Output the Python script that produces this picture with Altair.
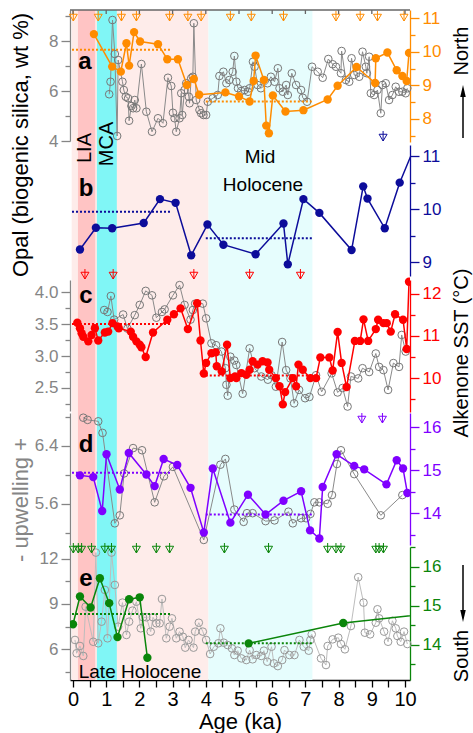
import altair as alt
import pandas as pd

# ---------------- data ----------------
# panel a : opal (grey, left axis) and orange record (right axis)
opal_age = [1.09,1.13,1.19,1.26,1.33,1.36,1.49,1.53,1.59,1.66,
            1.69,1.76,1.81,1.86,1.91,2.06,2.21,2.38,2.56,2.71,
            2.86,2.96,3.01,3.06,3.11,3.21,3.26,3.29,3.36,3.41,
            3.49,3.51,3.56,3.61,3.64,3.71,3.81,3.86,3.93,4.01,
            4.06,4.21,4.36,4.41,4.53,4.62,4.71,4.81,4.86,4.92,
            4.97,5.07,5.17,5.27,5.32,5.42,5.47,5.56,5.66,5.86,
            5.96,6.07,6.17,6.22,6.32,6.42,6.47,6.59,6.72,6.87,
            6.92,7.05,7.20,7.37,7.52,7.69,7.82,7.92,8.07,8.09,
            8.22,8.32,8.39,8.47,8.62,8.72,8.82,8.85,8.92,8.97,
            9.07,9.17,9.27,9.32,9.42,9.52,9.62,9.72,9.82,9.92,
            10.02,10.07]
opal_val = [5.87,6.37,8.84,7.48,4.20,7.24,6.37,6.04,5.77,5.71,
            4.81,5.40,5.31,5.64,5.31,7.08,5.17,4.37,4.91,4.71,
            6.53,6.20,5.13,4.91,4.37,4.91,5.91,5.04,6.04,6.31,
            5.77,5.51,6.51,6.57,8.71,5.64,5.24,5.11,5.04,5.04,
            5.57,5.71,5.84,6.60,6.77,6.31,6.44,6.77,7.40,6.37,
            6.11,6.00,6.04,5.97,6.11,7.17,6.97,6.24,6.11,6.31,
            6.57,6.37,6.91,6.11,5.97,6.24,5.84,6.71,6.24,6.04,
            5.73,5.57,6.97,6.77,6.53,7.28,7.07,6.97,6.71,7.60,
            6.44,6.37,7.31,6.64,6.57,7.57,6.97,6.71,7.37,5.91,
            5.84,6.04,5.11,6.24,6.31,5.64,5.84,6.17,5.97,5.97,
            5.91,6.11]
a_age = [0.63,1.18,1.44,1.61,1.69,1.84,2.02,2.56,2.84,3.16,
         3.43,3.64,3.80,4.59,5.00,5.32,5.44,5.50,5.75,5.82,
         5.90,6.02,6.40,6.94,7.67,7.97,8.54,9.10,9.12,9.47,
         9.75,9.92,10.05,10.12]
a_val = [10.53,9.56,9.41,10.26,9.59,10.59,10.31,10.23,9.78,9.78,
         9.01,9.19,8.72,8.79,8.67,8.52,9.13,9.89,9.16,7.80,
         7.57,8.70,8.22,8.26,8.58,8.99,9.55,9.07,9.81,9.98,
         9.45,9.28,9.13,9.97]

# panel b : blue record
b_age = [0.21,0.69,1.18,2.13,2.62,3.09,3.56,4.05,4.53,5.50,
         6.34,6.47,6.94,7.42,8.39,8.74,8.87,9.39,9.84,10.35]
b_val = [9.24,9.65,9.64,9.74,10.19,10.12,9.13,9.71,9.33,9.15,
         9.73,8.96,10.19,9.93,9.23,10.43,10.20,9.64,10.50,11.27]

# panel c : grey (left) and alkenone SST (red, right)
gc_age = [0.94,1.04,1.14,1.24,1.51,1.64,1.86,2.01,2.19,2.38,
          2.51,2.68,2.76,3.01,3.21,3.36,3.54,3.61,3.68,3.91,
          4.01,4.17,4.31,4.47,4.59,4.62,4.66,4.74,4.86,4.92,
          5.11,5.32,5.47,5.67,5.87,5.98,6.11,6.30,6.42,6.55,
          6.66,6.81,6.99,7.12,7.32,7.49,7.79,7.97,8.12,8.27,
          8.37,8.59,8.72,8.92,9.12,9.22,9.35,9.49,9.65,9.82,
          9.90,10.02]
gc_val = [3.72,3.69,3.94,3.57,3.65,3.43,3.64,3.80,4.02,3.95,
          3.60,3.69,3.73,3.95,4.11,3.80,3.57,3.72,3.82,3.82,
          3.59,3.20,3.17,3.07,2.81,2.55,2.38,2.99,2.93,2.86,
          2.41,3.12,2.81,2.68,2.63,2.70,2.52,3.22,2.78,2.65,
          2.26,2.47,2.34,2.36,2.70,2.44,2.73,2.43,2.50,2.21,
          2.68,2.65,2.81,2.75,3.04,2.83,2.78,2.47,2.89,2.83,
          3.33,3.07]
c_age = [0.13,0.21,0.26,0.31,0.46,0.56,0.66,0.76,0.96,1.06,
         1.19,1.34,1.38,1.74,1.81,1.91,2.01,2.06,2.19,2.41,
         2.84,3.04,3.24,3.46,3.74,3.84,3.94,4.01,4.17,4.30,
         4.33,4.48,4.64,4.74,4.88,4.92,5.07,5.22,5.32,5.41,
         5.56,5.71,5.86,5.91,6.11,6.22,6.32,6.39,6.62,6.72,
         6.79,6.92,7.15,7.32,7.45,7.72,7.82,7.97,8.09,8.24,
         8.49,8.65,8.75,8.89,9.12,9.19,9.35,9.45,9.57,9.70,
         9.94,10.05,10.12]
c_val = [11.31,11.18,11.06,10.98,10.87,11.02,11.18,10.89,11.08,11.10,
         11.30,11.22,11.18,11.10,10.98,10.87,10.79,10.73,10.50,11.08,
         11.38,11.51,11.65,11.16,11.77,10.89,10.11,10.36,10.59,10.61,
         10.28,10.16,10.79,10.00,10.04,10.00,10.12,10.08,10.20,10.40,
         10.32,10.40,10.37,10.20,10.00,9.81,9.38,9.67,10.00,9.81,
         10.32,10.20,10.00,10.00,10.49,10.49,10.18,11.09,10.36,9.79,
         10.88,10.88,11.39,10.88,11.16,11.38,11.30,11.30,11.10,11.51,
         11.38,10.69,12.28]

# panel d : grey upwelling index (left) and purple record (right)
gd_age = [0.31,0.44,0.76,0.89,1.26,1.41,1.54,1.81,2.08,2.46,
          2.74,3.01,3.94,4.44,4.59,4.86,5.14,5.24,5.41,5.80,
          6.07,6.49,6.62,6.87,7.02,7.15,7.27,7.42,7.67,7.80,
          7.95,8.07,8.47,9.27,9.92]
gd_val = [6.79,6.76,6.74,6.58,5.33,5.44,6.02,6.37,6.34,5.62,
          5.98,6.11,5.10,6.14,6.22,5.52,5.35,5.47,5.47,5.36,
          5.37,5.49,5.33,5.40,5.40,5.46,5.62,5.62,5.60,5.72,
          6.15,6.34,6.01,5.44,5.72]
d_age = [0.21,0.61,0.88,1.01,1.41,1.68,2.21,2.46,2.73,3.14,
         3.54,3.94,4.21,4.74,5.27,5.80,6.34,6.87,7.14,7.42,
         7.52,7.94,8.47,8.77,9.44,9.75,9.94,10.07]
d_val = [14.88,14.84,14.05,15.37,14.55,15.40,14.90,14.63,15.26,15.12,
         14.59,13.55,15.04,13.78,14.43,13.97,14.29,14.51,13.60,13.41,
         14.61,15.37,15.10,15.02,14.67,15.23,15.04,14.47]

# panel e : grey (left) and green record (right)
ge_age = [0.06,0.11,0.21,0.31,0.38,0.61,0.69,0.76,0.86,0.96,
          1.04,1.16,1.26,1.36,1.49,1.61,1.69,1.79,1.91,2.04,
          2.11,2.21,2.34,2.41,2.51,2.61,2.68,2.81,2.91,2.98,
          3.11,3.21,3.31,3.38,3.48,3.63,3.68,3.79,3.91,4.01,
          4.13,4.24,4.38,4.44,4.54,4.66,4.79,4.86,4.96,5.07,
          5.22,5.32,5.41,5.52,5.67,5.75,5.85,5.98,6.05,6.17,
          6.30,6.37,6.52,6.67,6.82,6.95,7.10,7.15,7.19,7.47,
          7.62,7.67,7.82,7.99,8.07,8.19,8.37,8.59,8.75,8.79,
          8.95,9.12,9.17,9.22,9.37,9.49,9.62,9.72,9.77,9.87,
          9.97,10.07]
ge_val = [6.62,5.74,6.22,5.56,8.82,6.50,12.40,6.40,7.83,9.93,
          6.73,12.40,10.26,7.50,9.09,6.95,7.83,8.56,9.15,7.39,
          8.12,8.12,7.17,8.12,7.72,7.72,9.33,6.73,7.50,8.05,
          6.73,7.17,6.83,6.11,6.62,6.11,7.17,7.76,7.17,6.62,
          5.69,6.17,6.40,7.39,6.44,6.28,6.06,5.62,5.91,5.40,
          5.29,5.95,5.34,5.62,5.56,5.91,5.18,6.17,5.07,4.89,
          5.29,5.95,5.62,5.62,6.62,6.17,5.91,6.62,6.99,5.40,
          4.96,6.22,6.66,6.77,6.35,6.00,7.54,10.77,9.09,7.10,
          6.99,7.76,8.65,8.05,7.17,6.50,7.89,7.39,6.88,6.50,
          7.17,6.35]
e_age = [0.00,0.21,0.53,0.81,1.09,1.34,1.69,2.01,2.24,5.29,8.14,10.6]
e_val = [14.53,15.24,14.96,15.71,15.07,14.20,15.17,15.22,13.67,14.04,14.56,14.79]
e_seg = [1,1,1,1,1,1,1,1,1,2,2,2]

# period means (start age, end age, value)
mean_start = [-0.03, 4.00]
mean_end = [2.97, 7.20]
a_mean = [10.06, 8.52]
b_mean = [9.95, 9.45]
c_mean = [11.28, 10.06]
d_mean = [14.94, 13.97]
e_mean = [14.79, 14.04]

# dating control points (ages)
date_orange = [0.01,0.76,1.46,1.91,2.91,3.46,3.86,4.74,5.37,6.34,7.92,8.65,9.17,9.97]
date_blue = [9.34]
date_red = [0.36,1.21,3.64,5.32,6.85]
date_purple = [8.70,9.32]
date_green = [0.01,0.16,0.26,0.56,0.96,1.16,1.91,2.51,2.91,4.56,5.89,7.67,7.92,8.07,9.12,9.22,9.35]

# climate periods
period_name = ["Late Holocene", "Mid Holocene", "LIA", "MCA"]
period_start = [-0.04, 4.08, 0.15, 0.72]
period_end = [4.08, 7.21, 0.67, 1.32]
period_color = ["#feecea", "#e6fdfd", "#ffc4c4", "#80f6f6"]

x_ticks = [i * 0.5 for i in range(21)]
top_ticks = list(range(11))

# ---------------- styling ----------------
W, H = 340, 670
FONT = "Liberation Sans"
GREY = "#858585"
ORANGE = "#ff8c00"
BLUE = "#0c0c9a"
RED = "#ff0000"
PURPLE = "#7f00ff"
GREEN = "#0a850a"
XS = alt.Scale(domain=[-0.09, 10.15], nice=False, zero=False)
XAXIS = alt.Axis(orient="bottom", values=x_ticks, grid=False, tickSize=7,
                 tickColor="black", domainColor="black", tickWidth=1.3, domainWidth=1.3,
                 labelExpr="datum.value % 1 === 0 ? format(datum.value, 'd') : ''",
                 labelFont=FONT, labelFontSize=20, labelColor="black", labelPadding=2,
                 title="Age (ka)", titleFont=FONT, titleFontSize=22,
                 titleFontWeight="normal", titleColor="black", titlePadding=2)
X = alt.X("age:Q", scale=XS, axis=XAXIS)


def ys(dom, rng):
    return alt.Scale(domain=dom, range=rng, nice=False, zero=False)


def ax(orient, values, color, major=True, fmt=None):
    kw = dict(orient=orient, values=values, title=None, grid=False,
              tickColor=color, domainColor=color, labelColor=color,
              labelFont=FONT, labelFontSize=17, tickWidth=1.3, domainWidth=1.3)
    if major:
        kw.update(tickSize=9, labelPadding=3)
        if fmt:
            kw["format"] = fmt
    else:
        kw.update(tickSize=5, labels=False, domain=False)
    return alt.Axis(**kw)


def frame(ages, vals, **extra):
    d = pd.DataFrame({"age": ages, "val": vals})
    for k, v in extra.items():
        d[k] = v
    return d


def line(df, color, scale, axis=None, width=1.5, clip=False, detail=None):
    enc = dict(x=X, y=alt.Y("val:Q", scale=scale, axis=axis))
    if detail:
        enc["detail"] = detail
    return alt.Chart(df).mark_line(color=color, strokeWidth=width, clip=clip).encode(**enc)


def dots(df, color, scale, axis=None, size=70, clip=False):
    return alt.Chart(df).mark_circle(color=color, size=size, opacity=1, clip=clip).encode(
        x=X, y=alt.Y("val:Q", scale=scale, axis=axis))


def rings(df, color, scale, axis=None, size=58):
    return alt.Chart(df).mark_point(shape="circle", filled=False, color=color, size=size,
                                    strokeWidth=1, opacity=1).encode(
        x=X, y=alt.Y("val:Q", scale=scale, axis=axis))


def means(vals, color, scale):
    df = pd.DataFrame({"age": mean_start, "e": mean_end, "val": vals})
    return alt.Chart(df).mark_rule(color=color, strokeWidth=2, strokeDash=[2, 2]).encode(
        x=X, x2="e:Q",
        y=alt.Y("val:Q", scale=scale, axis=None))


MARK_PATH = "M0,-1L0,1M-0.8,-0.35L0.8,-0.35L0,1Z"


def dating(ages, color, ypix):
    df = pd.DataFrame({"age": ages})
    return alt.Chart(df).mark_point(shape=MARK_PATH, filled=False, color=color, size=100,
                                    strokeWidth=1, opacity=1).encode(x=X, y=alt.value(ypix))


def label(text, xpix, ypix, size=19, angle=0, weight="normal", color="black"):
    kw = dict(text=text, font=FONT, fontSize=size, fontWeight=weight, color=color,
              align="center", baseline="middle")
    if angle:
        kw["angle"] = angle
    return alt.Chart(pd.DataFrame({"t": [0]})).mark_text(**kw).encode(
        x=alt.value(xpix), y=alt.value(ypix))


# scales (value domain -> pixel range inside the 670 px tall plot)
S_OPAL = ys([4.0, 9.24], [131, 0])
S_A = ys([7.31, 11.25], [132, 0])
S_B = ys([8.74, 11.21], [266, 135])
S_GC = ys([2.14, 4.19], [401, 270])
S_C = ys([9.2, 12.32], [402, 270])
S_GD = ys([5.03, 6.855], [535, 403])
S_D = ys([13.26, 16.33], [535, 403])
S_GE = ys([3.97, 12.77], [670, 537])
S_E = ys([13.1, 16.51], [670, 537])

df_opal = frame(opal_age, opal_val)
df_a = frame(a_age, a_val)
df_b = frame(b_age, b_val)
df_gc = frame(gc_age, gc_val)
df_c = frame(c_age, c_val)
df_gd = frame(gd_age, gd_val)
df_d = frame(d_age, d_val)
df_ge = frame(ge_age, ge_val)
df_e = frame(e_age, e_val, seg=e_seg)

bg = alt.Chart(pd.DataFrame({"name": period_name, "age": period_start, "e": period_end})).mark_rect().encode(
    x=X,
    x2="e:Q",
    y=alt.value(0), y2=alt.value(H),
    color=alt.Color("name:N", scale=alt.Scale(domain=period_name, range=period_color), legend=None),
)

top_line = alt.Chart(pd.DataFrame({"t": [0]})).mark_rule(color="#666666", strokeWidth=1.5).encode(
    x=alt.value(0), x2=alt.value(W), y=alt.value(0))
top_tick = alt.Chart(pd.DataFrame({"age": top_ticks})).mark_rule(color="#666666", strokeWidth=1.3).encode(
    x=X, y=alt.value(0), y2=alt.value(4))

layers = [
    bg,
    # grey records
    line(df_opal, "#8a8a8a", S_OPAL, ax("left", [5, 7, 9], GREY, major=False), width=1),
    rings(df_opal, "#777777", S_OPAL, ax("left", [4, 6, 8], GREY)),
    line(df_gc, "#8a8a8a", S_GC, ax("left", [2.25, 2.75, 3.25, 3.75], GREY, major=False), width=1),
    rings(df_gc, "#777777", S_GC, ax("left", [2.5, 3.0, 3.5, 4.0], GREY, fmt=".1f")),
    line(df_gd, "#8a8a8a", S_GD, ax("left", [5.2, 6.0, 6.8], GREY, major=False), width=1),
    rings(df_gd, "#777777", S_GD, ax("left", [5.6, 6.4], GREY, fmt=".1f")),
    line(df_ge, "#bdbdbd", S_GE, ax("left", [4.5, 7.5, 10.5], GREY, major=False), width=1),
    rings(df_ge, "#999999", S_GE, ax("left", [6, 9, 12], GREY)),
    # period means
    means(a_mean, ORANGE, S_A),
    means(b_mean, BLUE, S_B),
    means(c_mean, RED, S_C),
    means(d_mean, PURPLE, S_D),
    means(e_mean, GREEN, S_E),
    # coloured records
    line(df_a, ORANGE, S_A, ax("right", [7.5, 8.5, 9.5, 10.5], ORANGE, major=False), clip=True),
    dots(df_a, ORANGE, S_A, ax("right", [8, 9, 10, 11], ORANGE), clip=True),
    line(df_b, BLUE, S_B, ax("right", [9.5, 10.5], BLUE, major=False), clip=True),
    dots(df_b, BLUE, S_B, ax("right", [9, 10, 11], BLUE), clip=True),
    line(df_c, RED, S_C, ax("right", [9.5, 10.5, 11.5], RED, major=False), clip=True),
    dots(df_c, RED, S_C, ax("right", [10, 11, 12], RED), clip=True),
    line(df_d, PURPLE, S_D, ax("right", [13.5, 14.5, 15.5], PURPLE, major=False), clip=True),
    dots(df_d, PURPLE, S_D, ax("right", [14, 15, 16], PURPLE), clip=True),
    line(df_e, GREEN, S_E, ax("right", [13.5, 14.5, 15.5, 16.5], GREEN, major=False), clip=True,
         detail="seg:N"),
    dots(df_e, GREEN, S_E, ax("right", [14, 15, 16], GREEN), clip=True),
    # dating control points
    dating(date_orange, ORANGE, 6),
    dating(date_blue, BLUE, 126),
    dating(date_red, RED, 264),
    dating(date_purple, PURPLE, 408),
    dating(date_green, GREEN, 538),
    # frame
    top_line,
    top_tick,
    # annotations
    label("a", 15, 52, size=24, weight="bold"),
    label("b", 16, 179, size=24, weight="bold"),
    label("c", 16, 286, size=24, weight="bold"),
    label("d", 16, 435, size=24, weight="bold"),
    label("e", 16, 569, size=24, weight="bold"),
    label("LIA", 15, 138, size=20, angle=270),
    label("MCA", 37, 134, size=20, angle=270),
    label("Mid", 190, 147, size=19),
    label("Holocene", 193, 175, size=19),
    label("Late Holocene", 70, 662, size=19),
    label("Opal (biogenic silica, wt %)", -49, 135, size=22, angle=270),
    label("- upwelling +", -49, 490, size=22, angle=270, color=GREY),
    label("Alkenone SST (\u00b0C)", 392, 343, size=20, angle=270),
    label("North", 392, 41, size=20, angle=270),
    label("South", 392, 646, size=20, angle=270),
]

# arrows
arrow_up = alt.Chart(pd.DataFrame({"t": [0]})).mark_rule(color="black", strokeWidth=1.5).encode(
    x=alt.value(393), y=alt.value(80), y2=alt.value(128))
head_up = alt.Chart(pd.DataFrame({"t": [0]})).mark_point(
    shape="M0,-1L0.45,1L-0.45,1Z", filled=True, color="black", size=150, opacity=1).encode(
    x=alt.value(393), y=alt.value(81))
arrow_dn = alt.Chart(pd.DataFrame({"t": [0]})).mark_rule(color="black", strokeWidth=1.5).encode(
    x=alt.value(393), y=alt.value(555), y2=alt.value(605))
head_dn = alt.Chart(pd.DataFrame({"t": [0]})).mark_point(
    shape="M0,1L0.45,-1L-0.45,-1Z", filled=True, color="black", size=150, opacity=1).encode(
    x=alt.value(393), y=alt.value(606))
layers += [arrow_up, head_up, arrow_dn, head_dn]

chart = alt.layer(*layers).resolve_scale(y="independent").properties(
    width=W, height=H,
    padding={"left": 70, "top": 10, "right": 63, "bottom": 53},
    autosize=alt.AutoSizeParams(type="none"),
).configure_view(strokeWidth=0)

chart.save("out.html", embed_options={"renderer": "svg", "actions": False})
